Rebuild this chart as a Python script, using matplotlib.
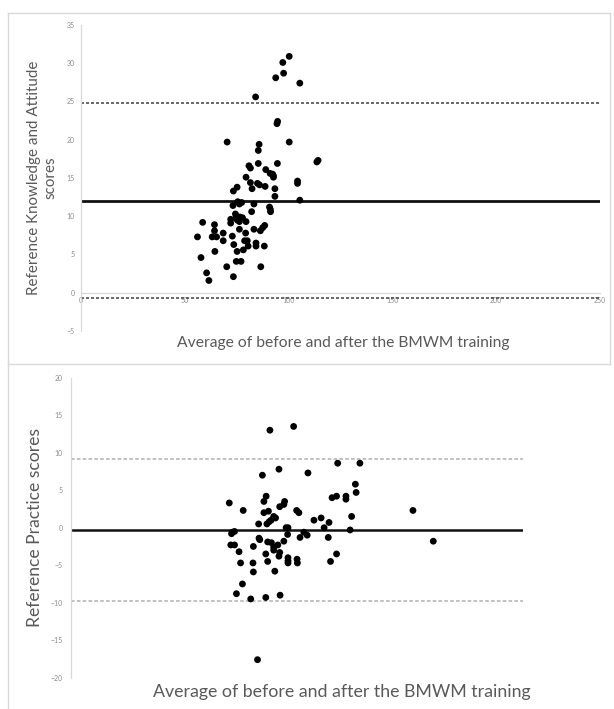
import matplotlib
matplotlib.use("Agg")
import matplotlib.pyplot as plt
from matplotlib.lines import Line2D

plt.rcParams['font.family'] = ['Lato', 'DejaVu Sans']
plt.rcParams['lines.scale_dashes'] = False

# ---------------- data ----------------
ka_avg = [100.3, 97.2, 97.6, 93.8, 105.4, 84.1, 94.7, 94.4, 70.4, 100.3,
          85.8, 85.4, 113.6, 114.2, 85.4, 94.6, 80.9, 81.6, 89.0, 91.1,
          92.3, 92.7, 79.5, 92.7, 81.6, 104.3, 104.3, 85.0, 86.0, 88.7,
          75.2, 82.4, 93.4, 73.4, 93.4, 105.4, 83.3, 77.4, 76.3, 75.5,
          73.2, 90.8, 91.2, 91.3, 82.2, 74.4, 74.8, 76.5, 77.8, 72.1,
          75.3, 58.6, 79.5, 72.1, 76.3, 88.5, 64.3, 87.5, 76.3, 83.3,
          64.3, 86.4, 68.5, 79.3, 56.1, 63.2, 65.3, 72.9, 68.5, 78.8,
          80.1, 84.3, 73.6, 84.3, 80.5, 88.3, 78.2, 75.2, 64.5, 57.8,
          74.8, 77.1, 70.2, 86.6, 73.4, 60.5, 61.6]
ka_diff = [30.9, 30.1, 28.7, 28.1, 27.4, 25.6, 22.4, 22.1, 19.7, 19.7,
           19.4, 18.6, 17.1, 17.3, 16.9, 16.9, 16.6, 16.3, 16.1, 15.6,
           15.5, 15.3, 15.1, 15.1, 14.4, 14.6, 14.3, 14.3, 14.1, 13.9,
           13.8, 13.6, 13.6, 13.3, 12.6, 12.1, 11.6, 11.8, 11.6, 11.9,
           11.4, 11.2, 10.9, 10.6, 10.6, 10.3, 10.0, 9.9, 9.8, 9.6,
           9.5, 9.2, 9.3, 9.1, 9.3, 8.8, 8.9, 8.5, 8.3, 8.3,
           8.1, 8.1, 7.8, 7.8, 7.3, 7.3, 7.3, 7.4, 6.8, 6.8,
           6.8, 6.5, 6.3, 6.1, 6.1, 6.1, 5.6, 5.4, 5.4, 4.6,
           4.1, 4.1, 3.4, 3.4, 2.1, 2.6, 1.6]
ka_mean = 12.0
ka_upper = 24.8
ka_lower = -0.65
ka_xticks = [0, 50, 100, 150, 200, 250]
ka_yticks = [-5, 0, 5, 10, 15, 20, 25, 30, 35]

pr_avg = [59.2, 52.9, 55.3, 50.9, 63.0, 70.9, 76.8, 75.6, 75.8, 69.4,
          70.6, 73.1, 73.1, 42.1, 51.9, 51.3, 56.8, 56.6, 55.5, 45.8,
          52.5, 51.3, 60.0, 60.6, 90.9, 74.6, 53.9, 54.4, 53.2, 66.5,
          64.6, 49.9, 52.1, 52.7, 68.6, 57.2, 57.7, 67.3, 42.9, 43.5,
          42.7, 74.2, 57.6, 61.9, 62.8, 60.9, 68.4, 50.0, 50.2, 52.3,
          56.6, 53.3, 96.3, 42.5, 43.5, 55.0, 48.5, 53.9, 53.9, 44.7,
          55.5, 51.8, 70.6, 55.3, 57.7, 60.1, 57.7, 60.2, 57.7, 45.1,
          48.4, 52.3, 69.0, 48.5, 54.2, 45.6, 44.0, 55.6, 51.8, 47.8,
          49.6]
pr_diff = [13.5, 13.0, 7.8, 7.0, 7.3, 8.6, 8.6, 5.8, 4.7, 4.0,
           4.2, 4.2, 3.8, 3.3, 4.2, 3.5, 3.5, 3.1, 2.8, 2.3,
           2.2, 2.0, 2.3, 2.0, 2.3, 1.5, 1.5, 1.3, 1.0, 1.3,
           1.0, 0.5, 0.5, 0.8, 0.7, 0.0, 0.0, 0.0, -0.6, -0.5,
           -0.8, -0.3, -0.9, -0.6, -1.0, -1.3, -1.3, -1.4, -1.6, -1.9,
           -1.8, -2.0, -1.8, -2.3, -2.3, -2.3, -2.5, -2.6, -3.0, -3.2,
           -3.3, -3.5, -3.5, -3.8, -4.0, -4.2, -4.4, -4.7, -4.7, -4.7,
           -4.7, -4.5, -4.5, -5.9, -5.8, -7.5, -8.8, -9.0, -9.3, -9.5,
           -17.6]
pr_mean = -0.35
pr_upper = 9.15
pr_lower = -9.8
pr_yticks = [-20, -15, -10, -5, 0, 5, 10, 15, 20]

xlabel_txt = "Average of before and after the BMWM training"
ka_ylabel = "Reference Knowledge and Attitude\nscores"
pr_ylabel = "Reference Practice scores"

# ---------------- layout ----------------
W, H = 614, 709
fig = plt.figure(figsize=(W / 100, H / 100), dpi=100)
fig.patch.set_facecolor('white')


def box(l, t, r, b):
    return [l / W, 1 - b / H, (r - l) / W, (b - t) / H]


GRID = '#d9d9d9'
TXT = '#595959'
TICK = '#8c8c8c'

# ---- top panel ----
ax1 = fig.add_axes(box(81, 25, 600, 331))
ax1.set_xlim(0, 250)
ax1.set_ylim(-5, 35)
for s in ['top', 'right']:
    ax1.spines[s].set_visible(False)
ax1.spines['left'].set_color(GRID)
ax1.spines['left'].set_linewidth(0.9)
ax1.spines['bottom'].set_position(('data', 0))
ax1.spines['bottom'].set_color(GRID)
ax1.spines['bottom'].set_linewidth(0.9)
ax1.set_xticks(ka_xticks)
ax1.set_yticks(ka_yticks)
ax1.tick_params(axis='both', length=0, labelsize=5, labelcolor=TICK)
ax1.tick_params(axis='x', pad=3)
ax1.tick_params(axis='y', pad=4.3)

ax1.axhline(ka_upper, color='#404040', lw=1.1, dashes=(2.2, 1.4), zorder=2)
ax1.axhline(ka_lower, color='#404040', lw=1.1, dashes=(2.2, 1.4), zorder=2)
ax1.axhline(ka_mean, color='#111111', lw=2.0, zorder=2)
ax1.scatter(ka_avg, ka_diff, s=24, color='black', edgecolors='none', zorder=3)

# ---- bottom panel ----
ax2 = fig.add_axes(box(70.8, 377.7, 522.5, 677.7))
ax2.set_xlim(0, 120)
ax2.set_ylim(-20, 20)
for s in ['top', 'right', 'bottom']:
    ax2.spines[s].set_visible(False)
ax2.spines['left'].set_color(GRID)
ax2.spines['left'].set_linewidth(0.9)
ax2.set_xticks([])
ax2.set_yticks(pr_yticks)
ax2.tick_params(axis='both', length=0, labelsize=5, labelcolor=TICK)
ax2.tick_params(axis='y', pad=5.8)

ax2.axhline(pr_upper, color='#b0b0b0', lw=1.1, dashes=(2.6, 1.6), zorder=2)
ax2.axhline(pr_lower, color='#b0b0b0', lw=1.1, dashes=(2.6, 1.6), zorder=2)
ax2.axhline(pr_mean, color='#111111', lw=1.8, zorder=2)
ax2.scatter(pr_avg, pr_diff, s=24, color='black', edgecolors='none', zorder=3)

# ---- panel frames ----
def fline(x0, y0, x1, y1):
    fig.add_artist(Line2D([x0 / W, x1 / W], [1 - y0 / H, 1 - y1 / H],
                          color=GRID, lw=1.0, transform=fig.transFigure))

fline(8, 13, 610, 13)
fline(8, 13, 8, 709)
fline(610, 13, 610, 364)
fline(8, 364, 610, 364)

# ---- labels (size fitted to target extents) ----
fig.canvas.draw()
renderer = fig.canvas.get_renderer()


def fit_text(x, y, s, target, rotation=0, **kw):
    t = fig.text(x / W, 1 - y / H, s, ha='center', va='center',
                 rotation=rotation, fontsize=10, color=TXT,
                 multialignment='center', **kw)
    bb = t.get_window_extent(renderer)
    ext = bb.height if rotation == 90 else bb.width
    t.set_fontsize(10 * target / ext)
    return t

fit_text(343, 343, xlabel_txt, 332)
fit_text(341.5, 692, xlabel_txt, 378)
fit_text(42, 178, ka_ylabel, 235, rotation=90, linespacing=1.25)
fit_text(35.5, 527.5, pr_ylabel, 199, rotation=90)

fig.savefig('out.png', dpi=100, facecolor='white')
